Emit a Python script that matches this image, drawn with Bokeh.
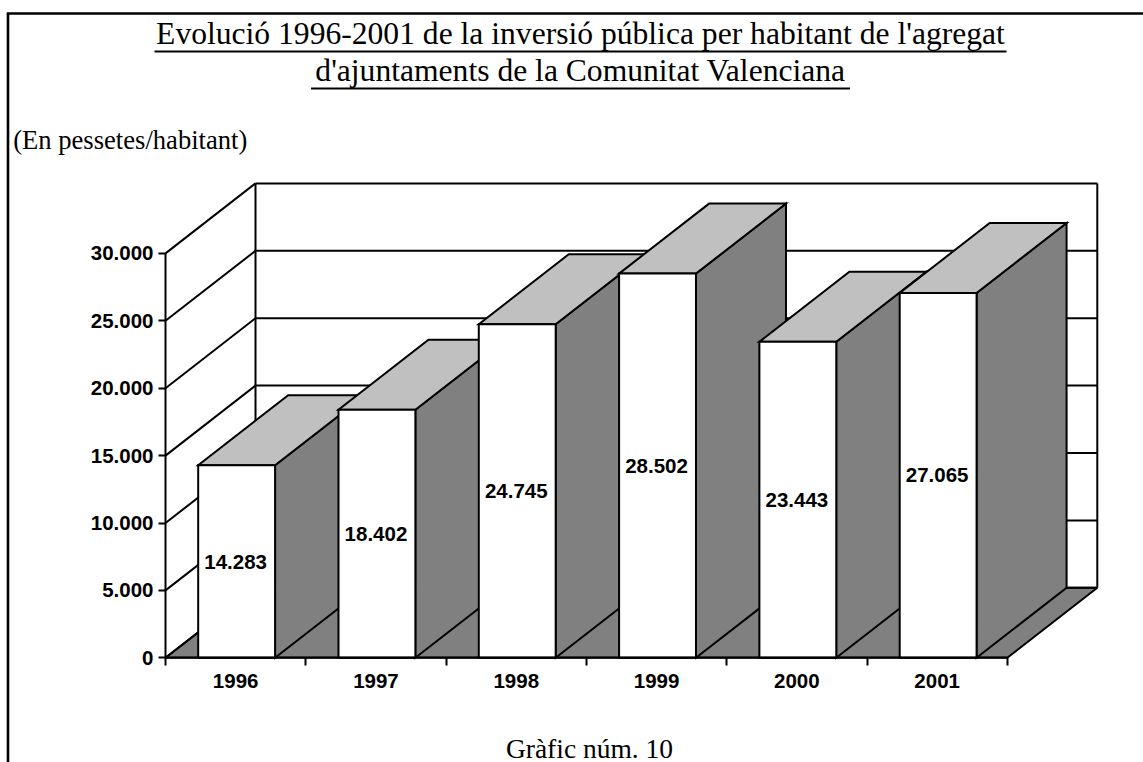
from bokeh.plotting import figure
from bokeh.models import Range1d, LinearAxis, FixedTicker
from bokeh.core.properties import value
from bokeh.embed import file_html
from bokeh.resources import INLINE

# ---------------- data ----------------
years = ["1996", "1997", "1998", "1999", "2000", "2001"]
investment = [14283, 18402, 24745, 28502, 23443, 27065]
y_ticks = [0, 5000, 10000, 15000, 20000, 25000, 30000]
y_tick_labels = ["0", "5.000", "10.000", "15.000", "20.000", "25.000", "30.000"]
title_lines = [
    "Evolució 1996-2001 de la inversió pública per habitant de l'agregat",
    "d'ajuntaments de la Comunitat Valenciana",
]
unit_text = "(En pessetes/habitant)"
caption_text = "Gràfic núm. 10"

# ---------------- layout constants (pixels) ----------------
W, H = 1143, 762
X0 = 165.0          # canvas px of category axis origin
CW = 140.3          # px per category
Y0 = 657.3          # canvas px (from top) of value 0
PY = 67.4 / 5000.0  # px per value unit
DXPX, DYPX = 90.0, 70.0   # 3D depth offset in px

x_start = -X0 / CW
x_end = (W - X0) / CW
y_start = -(H - Y0) / PY
y_end = Y0 / PY


def sx(px):
    return x_start + px / CW


def sy(py):
    return y_end - py / PY


DX = DXPX / CW
DY = DYPX / PY
n = len(years)
ymax = y_ticks[-1]

p = figure(width=W, height=H, output_backend="svg", toolbar_location=None,
           x_range=Range1d(x_start, x_end), y_range=Range1d(y_start, y_end),
           x_axis_location=None, y_axis_location=None,
           min_border=0, min_border_left=0, min_border_right=0,
           min_border_top=0, min_border_bottom=0)
p.grid.visible = False
p.outline_line_color = None
p.background_fill_color = "white"
p.border_fill_color = "white"

LW = 2

# floor
p.patch([0, n, n + DX, DX], [0, 0, DY, DY], fill_color="#808080",
        line_color="black", line_width=LW)

# back wall gridlines
p.segment(x0=[DX] * len(y_ticks), y0=[t + DY for t in y_ticks],
          x1=[n + DX] * len(y_ticks), y1=[t + DY for t in y_ticks],
          line_color="black", line_width=LW)
# left wall diagonals
p.segment(x0=[0] * len(y_ticks), y0=y_ticks,
          x1=[DX] * len(y_ticks), y1=[t + DY for t in y_ticks],
          line_color="black", line_width=LW)
# wall vertical edges
p.segment(x0=[DX, n + DX], y0=[DY, DY], x1=[DX, n + DX], y1=[ymax + DY, ymax + DY],
          line_color="black", line_width=LW)

# bars (painter order, left to right)
L_OFF, R_OFF = 0.233, 0.781
xs, ys, colors = [], [], []
for i, v in enumerate(investment):
    L, R = i + L_OFF, i + R_OFF
    xs.append([R, R + DX, R + DX, R]); ys.append([0, DY, v + DY, v]); colors.append("#808080")
    xs.append([L, R, R + DX, L + DX]); ys.append([v, v, v + DY, v + DY]); colors.append("#C0C0C0")
    xs.append([L, R, R, L]); ys.append([0, 0, v, v]); colors.append("white")
p.patches(xs, ys, fill_color=colors, line_color="black", line_width=LW, line_join="miter")

# value labels
centers = [i + 0.5 for i in range(n)]
val_labels = [f"{v:,}".replace(",", ".") for v in investment]
p.text(x=centers, y=[v / 2 for v in investment], text=val_labels,
       text_font=value("Liberation Sans"), text_font_style="bold",
       text_font_size="20.5px", text_align="center", text_baseline="middle",
       text_color="black")

# y axis
yaxis = LinearAxis(fixed_location=0, bounds=(0, ymax),
                   ticker=FixedTicker(ticks=y_ticks),
                   major_label_overrides=dict(zip(y_ticks, y_tick_labels)))
yaxis.axis_line_width = LW
yaxis.axis_line_color = "black"
yaxis.major_tick_line_width = LW
yaxis.major_tick_out = 7
yaxis.major_tick_in = 0
yaxis.minor_tick_line_color = None
yaxis.major_label_standoff = 5
yaxis.major_label_text_font = "Liberation Sans"
yaxis.major_label_text_font_style = "bold"
yaxis.major_label_text_font_size = "20.5px"
yaxis.major_label_text_color = "black"
p.add_layout(yaxis, "left")

# x axis
xaxis = LinearAxis(fixed_location=0, bounds=(0, n),
                   ticker=FixedTicker(ticks=centers, minor_ticks=list(range(n + 1))),
                   major_label_overrides=dict(zip(centers, years)))
xaxis.axis_line_width = LW
xaxis.axis_line_color = "black"
xaxis.major_tick_line_color = None
xaxis.major_tick_out = 0
xaxis.major_tick_in = 0
xaxis.minor_tick_line_width = LW
xaxis.minor_tick_line_color = "black"
xaxis.minor_tick_out = 8
xaxis.minor_tick_in = 0
xaxis.major_label_standoff = 8
xaxis.major_label_text_font = "Liberation Sans"
xaxis.major_label_text_font_style = "bold"
xaxis.major_label_text_font_size = "20.5px"
xaxis.major_label_text_color = "black"
p.add_layout(xaxis, "below")

# title
TITLE_CX = 580.0
title_mid = [33.0, 70.0]
title_widths = [852.0, 539.0]
title_ul = [51.0, 88.0]
p.text(x=[sx(TITLE_CX)] * 2, y=[sy(m) for m in title_mid], text=title_lines,
       text_font=value("Liberation Serif"), text_font_size="31.6px",
       text_align="center", text_baseline="middle", text_color="black")
p.segment(x0=[sx(TITLE_CX - w / 2) for w in title_widths], y0=[sy(u) for u in title_ul],
          x1=[sx(TITLE_CX + w / 2) for w in title_widths], y1=[sy(u) for u in title_ul],
          line_color="black", line_width=2)

# unit text
p.text(x=[sx(12.7)], y=[sy(139.0)], text=[unit_text],
       text_font=value("Liberation Serif"), text_font_size="26.6px",
       text_align="left", text_baseline="middle", text_color="black")

# caption
p.text(x=[sx(589.0)], y=[sy(747.5)], text=[caption_text],
       text_font=value("Liberation Serif"), text_font_size="27.5px",
       text_align="center", text_baseline="middle", text_color="black")

# page border (top and left)
p.segment(x0=[sx(6.3), sx(7.5)], y0=[sy(13), sy(13)], x1=[sx(W), sx(7.5)], y1=[sy(13), sy(H)],
          line_color="black", line_width=2.6)

open("out.html", "w").write(file_html(p, INLINE))
